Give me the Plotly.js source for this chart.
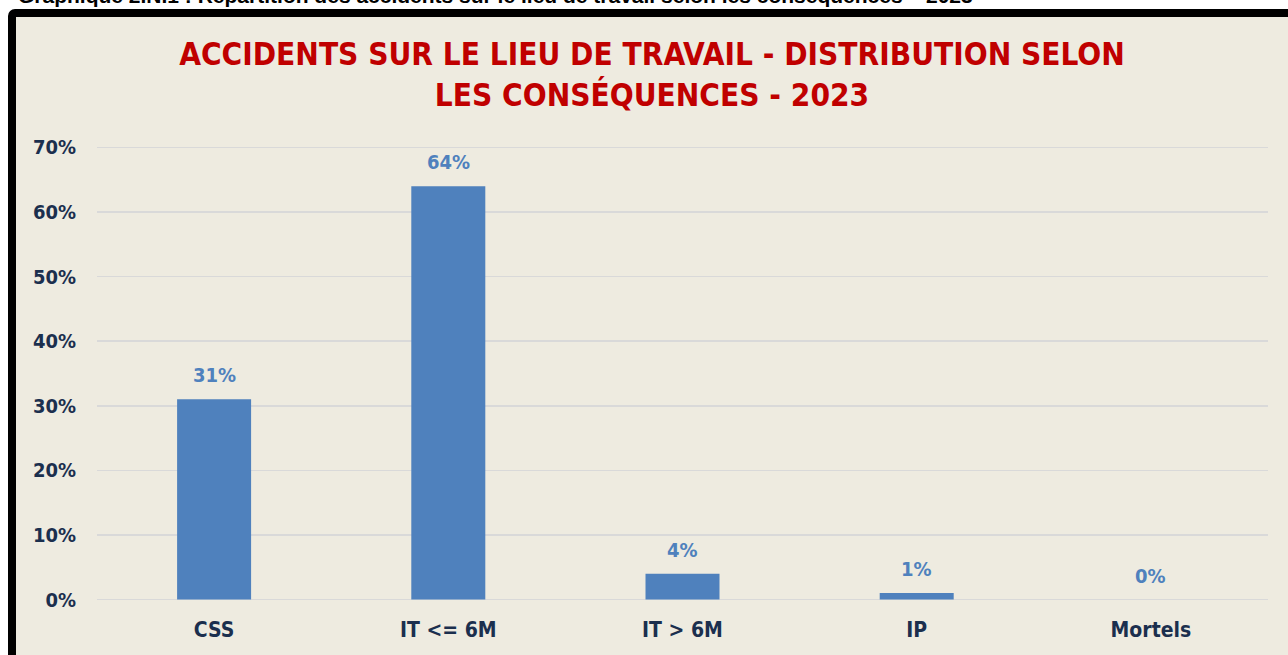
<!DOCTYPE html>
<html>
<head>
<meta charset="utf-8">
<script src="https://cdn.plot.ly/plotly-3.0.1.min.js"></script>
<style>
html, body { margin:0; padding:0; width:1288px; height:655px; overflow:hidden; background:#ffffff; }
#header { position:absolute; left:18px; top:-16px; white-space:nowrap; font-family:"Liberation Sans", Arial, sans-serif; font-weight:bold; font-size:21px; color:#000; }
#frame { position:absolute; left:8px; top:9px; width:1290px; height:660px; border:8px solid #000; border-radius:7px; background:#EEEBE0; }
#chart { position:absolute; left:16px; top:17px; width:1272px; height:638px; }
</style>
</head>
<body>
<div id="header">Graphique 2.N.1 : Répartition des accidents sur le lieu de travail selon les conséquences – 2023</div>
<div id="frame"></div>
<div id="chart"></div>
<script>
const categories = ["CSS", "IT <= 6M", "IT > 6M", "IP", "Mortels"];
const values = [31, 64, 4, 1, 0];
const labels = ["31%", "64%", "4%", "1%", "0%"];
const tickVals = [0, 10, 20, 30, 40, 50, 60, 70];
const tickText = ["0%", "10%", "20%", "30%", "40%", "50%", "60%", "70%"];

const font = "'DejaVu Sans Condensed', 'DejaVu Sans', sans-serif";

const trace = {
  type: "bar",
  x: categories,
  y: values,
  marker: { color: "#4F81BD" },
  width: 0.316,
  hoverinfo: "none"
};

const annotations = categories.map((c, i) => ({
  x: c, y: values[i], xref: "x", yref: "y",
  text: "<b>" + labels[i] + "</b>",
  showarrow: false, yanchor: "bottom", yshift: 10,
  font: { family: font, size: 20, color: "#4F81BD" }
}));

const layout = {
  width: 1272, height: 638,
  paper_bgcolor: "#EEEBE0", plot_bgcolor: "#EEEBE0",
  margin: { l: 81, r: 20, t: 123.5, b: 48.5 },
  title: {
    text: "<b>ACCIDENTS SUR LE LIEU DE TRAVAIL - DISTRIBUTION SELON<br>LES CONSÉQUENCES - 2023</b>",
    font: { family: font, size: 31.3, color: "#C00000" },
    x: 0.5, xanchor: "center", y: 0.925, yanchor: "top", yref: "container"
  },
  showlegend: false,
  bargap: 0.684,
  xaxis: {
    showgrid: false, zeroline: false, showline: false, ticks: "",
    ticklabelstandoff: 9,
    tickfont: { family: font, size: 21, color: "#1B2F4E" },
    tickprefix: "<b>", ticksuffix: "</b>"
  },
  yaxis: {
    range: [-1, 71], tickvals: tickVals, ticktext: tickText.map(t => "<b>" + t + "</b>"),
    showgrid: true, gridcolor: "#D9D9D9", gridwidth: 1.5,
    zeroline: false, showline: false, ticks: "",
    ticklabelstandoff: 20,
    tickfont: { family: font, size: 20, color: "#1B2F4E" }
  },
  annotations: annotations
};

Plotly.newPlot("chart", [trace], layout, { displayModeBar: false, staticPlot: true });
</script>
</body>
</html>
